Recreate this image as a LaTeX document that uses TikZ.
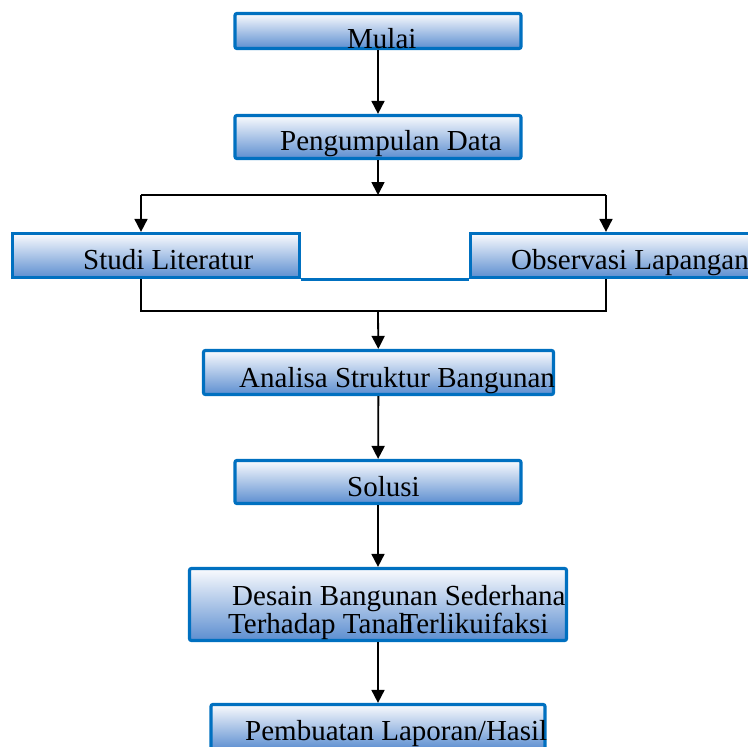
\documentclass[tikz,border=0pt]{standalone}
\usepackage{fontspec}
\setmainfont{Liberation Serif}
\usetikzlibrary{arrows.meta}
\definecolor{boxline}{RGB}{0,112,192}
\definecolor{boxtop}{RGB}{250,251,254}
\definecolor{boxmid}{RGB}{224,232,246}
\definecolor{boxbot}{RGB}{92,142,208}

\begin{document}
\begin{tikzpicture}[
    x=1pt, y=-1pt,
    arr/.style={%
      -{Triangle[width=13pt,length=13pt]},
      line width=1.8pt,
    },
    con/.style={%
      line width=1.8pt,
    },
  ]

\tikzstyle{s1} = [rectangle, rounded corners=2pt, inner sep=0pt, draw=boxline, line width=3.2pt, top color=boxtop, middle color=boxmid, bottom color=boxbot]

\tikzstyle{s2} = [s1, rounded corners=0pt]

\tikzstyle{t1} = [anchor=base west, inner sep=0pt, font=\fontsize{29}{32}\selectfont]

    \useasboundingbox (0,0) rectangle (748,747);

    % boxes
    \node [s1, minimum width=286pt, minimum height=35pt] (A) at (378,31) {};
    \node [s1, minimum width=286pt, minimum height=43pt] (B) at (378,137) {};
    \node [s2, minimum width=287pt, minimum height=44pt] (C) at (156,255.5) {};
    \node [s2, minimum width=287pt, minimum height=44pt] (D) at (614,255.5) {};
    \node [s1, minimum width=350pt, minimum height=44pt] (E) at (378.5,372.5) {};
    \node [s1, minimum width=286pt, minimum height=43pt] (F) at (378,482) {};
    \node [s1, minimum width=377pt, minimum height=72pt] (G) at (378,604.5) {};
    \node [s1, minimum width=334pt, minimum height=45pt] (H) at (378,727) {};

    % texts
    \node [t1] (At) at (347,48) {Mulai};
    \node [t1] (Bt) at (280,150) {Pengumpulan Data};
    \node [t1] (Ct) at (83,269) {Studi Literatur};
    \node [t1] (Dt) at (511,269) {Observasi Lapangan};
    \node [t1] (Et) at (239,387) {Analisa Struktur Bangunan};
    \node [t1] (Ft) at (347,496) {Solusi};
    \node [t1] (Gt1) at (232,605) {Desain Bangunan Sederhana};
    \node [t1] (Gt2) at (228,633) {Terhadap Tanah\hspace{-20pt} Terlikuifaksi};
    \node [t1] (Ht) at (245,740) {Pembuatan Laporan/Hasil};

    % branch points
    \coordinate (J1) at (378,195);
    \coordinate (P1) at (141,195);
    \coordinate (P2) at (606,195);
    \coordinate (Q1) at (141,311);
    \coordinate (Q2) at (606,311);
    \coordinate (Q0) at (378,311);

    \draw [arr] (A) -- (B);
    \draw [arr] (B) -- (J1);
    \draw [con] (P1) -- (P2);
    \draw [arr] (P1) -- (P1 |- C.north);
    \draw [arr] (P2) -- (P2 |- D.north);
    \draw [con] (Q1 |- C.south) -- (Q1) -- (Q2) -- (Q2 |- D.south);
    \draw [boxline, line width=3pt] (C.south east) -- (D.south west);
    \draw [arr] (Q0) -- (E);
    \draw [arr] (E) -- (F);
    \draw [arr] (F) -- (G);
    \draw [arr] (G) -- (H);
\end{tikzpicture}
\end{document}
